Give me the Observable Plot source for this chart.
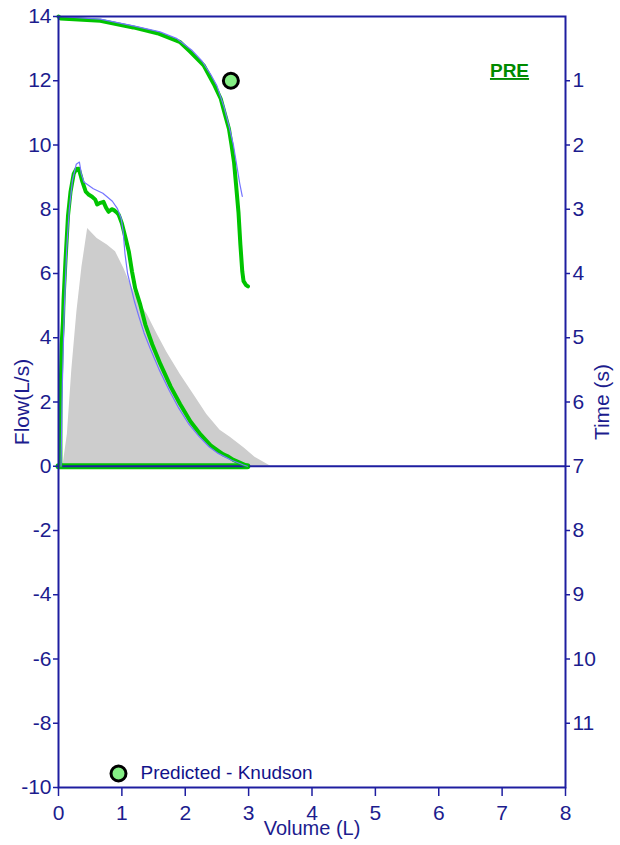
<!DOCTYPE html>
<html>
<head>
<meta charset="utf-8">
<script src="https://cdn.jsdelivr.net/npm/d3@7"></script>
<script src="https://cdn.jsdelivr.net/npm/@observablehq/plot@0.6"></script>
<style>
  html, body { margin: 0; padding: 0; background: #fff; }
  #chart svg { display: block; }
</style>
</head>
<body>
<div id="chart"></div>
<script>
// ---- tick labels ----
const volumeTicks = [0, 1, 2, 3, 4, 5, 6, 7, 8];
const flowTicks = [-10, -8, -6, -4, -2, 0, 2, 4, 6, 8, 10, 12, 14];
const timeTicks = [1, 2, 3, 4, 5, 6, 7, 8, 9, 10, 11];

// ---- measured flow-volume loop (green, thick) ----
const fvVolume = [0.03,0.03,0.05,0.07,0.08,0.11,0.15,0.19,0.24,0.28,0.32,0.35,0.37,0.43,0.48,0.53,0.58,0.61,0.66,0.71,0.75,0.79,0.84,0.87,0.92,0.95,1.00,1.06,1.11,1.16,1.21,1.29,1.37,1.48,1.61,1.77,1.92,2.08,2.24,2.40,2.52,2.60,2.68,2.76,2.85,2.92,2.98];
const fvFlow   = [0,2.0,3.8,4.5,5.2,6.4,7.8,8.55,9.1,9.25,9.26,9.05,8.9,8.55,8.45,8.39,8.3,8.15,8.2,8.23,8.05,7.92,8.0,7.98,7.9,7.83,7.56,7.09,6.68,6.06,5.54,5.03,4.41,3.79,3.17,2.48,1.93,1.40,0.99,0.65,0.48,0.37,0.30,0.2,0.12,0.06,0];

// ---- second flow-volume trace (blue, thin) ----
const fvBlueVolume = [0.04,0.06,0.09,0.13,0.17,0.22,0.28,0.33,0.36,0.40,0.55,0.70,0.85,0.93,0.99,1.02,1.05,1.09,1.14,1.20,1.27,1.35,1.46,1.59,1.75,1.90,2.06,2.22,2.38,2.52,2.62,2.74,2.84,2.92,2.98];
const fvBlueFlow   = [0,2.5,4.8,6.8,8.0,8.9,9.4,9.47,9.1,8.85,8.64,8.5,8.25,8.02,7.71,7.3,6.6,6.0,5.6,5.12,4.65,4.15,3.6,3.0,2.35,1.8,1.3,0.92,0.6,0.4,0.3,0.18,0.1,0.04,0];

// ---- inspiratory baseline (green at zero flow) ----
const baseVolume = [0, 2.98];
const baseFlow = [0, 0];

// ---- predicted flow-volume envelope (grey area) ----
const predVolume = [0.07,0.14,0.21,0.29,0.37,0.46,0.53,0.61,0.77,0.90,1.03,1.14,1.29,1.40,1.56,1.71,1.92,2.13,2.34,2.55,2.71,2.93,3.10,3.35];
const predFlow   = [0,1.0,3.0,4.8,6.2,7.4,7.25,7.09,6.89,6.68,6.16,5.65,5.05,4.72,4.1,3.55,2.86,2.24,1.61,1.12,0.9,0.57,0.28,0];

// ---- volume-time curve (green, thick) : time runs downward on right axis ----
const vtVolume = [0.00,0.03,0.66,1.18,1.56,1.82,1.92,2.08,2.24,2.29,2.45,2.56,2.62,2.69,2.73,2.77,2.80,2.84,2.87,2.90,2.92,2.96,2.99];
const vtTime   = [0.00,0.03,0.065,0.17,0.26,0.36,0.40,0.55,0.71,0.76,1.05,1.28,1.50,1.75,2.00,2.27,2.60,3.05,3.55,3.97,4.12,4.18,4.20];

// ---- volume-time curve (blue, thin) ----
const vtBlueVolume = [0.00,0.66,1.20,1.60,1.86,2.10,2.27,2.40,2.50,2.61,2.69,2.76,2.81,2.86,2.90];
const vtBlueTime   = [0.00,0.04,0.15,0.24,0.34,0.52,0.70,0.90,1.08,1.40,1.70,2.00,2.30,2.60,2.80];

// ---- predicted FEV1 (Knudson) ----
const predictedVolume = [2.72];
const predictedTime = [1];

const legendLabel = "Predicted - Knudson";
const testLabel = "PRE";

// Time axis shares the flow scale: 0 s at flow 14, 7 s at flow 0
const timeToFlow = t => 14 - 2 * t;
const flowToTime = f => (14 - f) / 2;

const zip = (xs, ys) => xs.map((x, i) => ({x, y: ys[i]}));
const fv = zip(fvVolume, fvFlow);
const fvBlue = zip(fvBlueVolume, fvBlueFlow);
const base = zip(baseVolume, baseFlow);
const pred = zip(predVolume, predFlow);
const vt = zip(vtVolume, vtTime.map(timeToFlow));
const vtBlue = zip(vtBlueVolume, vtBlueTime.map(timeToFlow));
const predicted = zip(predictedVolume, predictedTime.map(timeToFlow));

const navy = "#1e1ea0";
const textNavy = "#1c1c8e";
const green = "#00c400";
const blueThin = "#7474ff";
const dotFill = "#84ee84";

const chart = Plot.plot({
  width: 620,
  height: 845,
  marginLeft: 58,
  marginRight: 55,
  marginTop: 16,
  marginBottom: 58,
  style: {fontFamily: "'Liberation Sans', Arial, sans-serif", background: "#fff", fontSize: "21px"},
  x: {domain: [0, 8]},
  y: {domain: [-10, 14]},
  marks: [
    Plot.areaY(pred, {x: "x", y: "y", fill: "#cdcdcd"}),
    Plot.line(base, {x: "x", y: "y", stroke: green, strokeWidth: 6}),
    Plot.ruleY([0], {stroke: navy, strokeWidth: 2}),
    Plot.line(fv, {x: "x", y: "y", stroke: green, strokeWidth: 4, strokeLinejoin: "round"}),
    Plot.line(fvBlue, {x: "x", y: "y", stroke: blueThin, strokeWidth: 1.2}),
    Plot.line(vt, {x: "x", y: "y", stroke: green, strokeWidth: 4, strokeLinejoin: "round"}),
    Plot.line(vtBlue, {x: "x", y: "y", stroke: blueThin, strokeWidth: 1.2}),
    Plot.dot(predicted, {x: "x", y: "y", r: 7.5, fill: dotFill, stroke: "#000", strokeWidth: 3}),
    Plot.frame({stroke: navy, strokeWidth: 2}),
    Plot.axisX({ticks: volumeTicks, tickFormat: d => String(d), tickSize: 9, tickPadding: 9, color: textNavy, stroke: navy, strokeWidth: 1.5, fontSize: 21, label: null}),
    Plot.axisY({anchor: "left", ticks: flowTicks, tickFormat: d => String(d), tickSize: 5, tickPadding: 2, color: textNavy, stroke: navy, strokeWidth: 1.5, fontSize: 21, label: null}),
    Plot.axisY({anchor: "right", ticks: timeTicks.map(timeToFlow), tickFormat: f => String(flowToTime(f)), tickSize: 4, tickPadding: 3, color: textNavy, stroke: navy, strokeWidth: 1.5, fontSize: 21, label: null}),
    Plot.text(["Flow(L/s)"], {frameAnchor: "left", dx: -36, rotate: -90, textAnchor: "middle", fontSize: 21, fill: textNavy}),
    Plot.text(["Time (s)"], {frameAnchor: "right", dx: 37, rotate: -90, textAnchor: "middle", fontSize: 21, fill: textNavy}),
    Plot.text(["Volume (L)"], {frameAnchor: "bottom", dy: 47, textAnchor: "middle", fontSize: 20, fill: textNavy}),
    Plot.text([testLabel], {frameAnchor: "top-right", dx: -56, dy: 47, textAnchor: "middle", fontSize: 19, fontWeight: "bold", fill: "#008a00"}),
    Plot.dot([legendLabel], {frameAnchor: "bottom-left", dx: 60, dy: -14, r: 7.5, fill: dotFill, stroke: "#000", strokeWidth: 3}),
    Plot.text([legendLabel], {frameAnchor: "bottom-left", dx: 82, dy: -9, textAnchor: "start", fontSize: 19, fill: "#12128a"})
  ]
});

document.getElementById("chart").appendChild(chart);
chart.querySelectorAll("text").forEach(t => {
  if (t.textContent === testLabel) t.setAttribute("text-decoration", "underline");
});
</script>
</body>
</html>
